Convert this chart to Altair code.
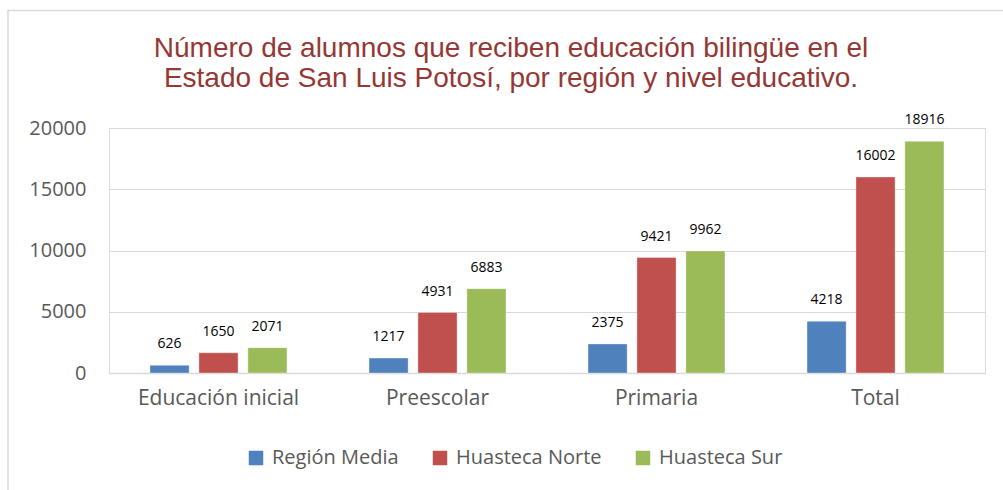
import altair as alt
import pandas as pd

title_lines = ["Número de alumnos que reciben educación bilingüe en el",
               "Estado de San Luis Potosí, por región y nivel educativo."]
categories = ["Educación inicial", "Preescolar", "Primaria", "Total"]
series = ["Región Media", "Huasteca Norte", "Huasteca Sur"]
region_media = [626, 1217, 2375, 4218]
huasteca_norte = [1650, 4931, 9421, 16002]
huasteca_sur = [2071, 6883, 9962, 18916]
colors = ["#4F81BD", "#C0504D", "#9BBB59"]

rows = []
for vals, s in zip([region_media, huasteca_norte, huasteca_sur], series):
    for c, v in zip(categories, vals):
        rows.append({"nivel": c, "region": s, "alumnos": v})
df = pd.DataFrame(rows)

W, H = 876, 245
font = "Open Sans"

base = alt.Chart(df).encode(
    x=alt.X("nivel:N", sort=categories,
            scale=alt.Scale(paddingInner=0.33, paddingOuter=0.165),
            axis=alt.Axis(title=None, labelAngle=0, labelFontSize=21, labelColor="#595959",
                          labelFont=font, labelPadding=14, ticks=False,
                          domainColor="#D9D9D9", domainWidth=1.5)),
    xOffset=alt.XOffset("region:N", sort=series,
                        scale=alt.Scale(paddingInner=0.2, paddingOuter=0.1)),
    y=alt.Y("alumnos:Q", scale=alt.Scale(domain=[0, 20000]),
            axis=alt.Axis(title=None, values=[0, 5000, 10000, 15000, 20000],
                          labelFontSize=20, labelColor="#595959", labelFont=font,
                          labelPadding=23, ticks=False, domain=False,
                          gridColor="#D9D9D9", gridWidth=1.2, format="d")),
)

bars = base.mark_bar(stroke="white", strokeWidth=0.6, strokeOpacity=0.6).encode(
    color=alt.Color("region:N", sort=series,
                    scale=alt.Scale(domain=series, range=colors),
                    legend=alt.Legend(title=None, orient="none", direction="horizontal",
                                      legendX=137, legendY=320,
                                      symbolType="square", symbolSize=210,
                                      symbolStrokeWidth=0,
                                      labelFontSize=20, labelColor="#595959",
                                      labelFont=font, columnPadding=31,
                                      labelOffset=6))
)

labels = base.mark_text(baseline="middle", dy=-21, fontSize=14, font=font,
                        color="#000000").encode(text=alt.Text("alumnos:Q", format="d"))

one = pd.DataFrame({"k": [0]})
border = alt.Chart(one).mark_rect(fill=None, stroke="#D9D9D9", strokeWidth=1.5,
                                  clip=False).encode(
    x=alt.value(-101), x2=alt.value(920), y=alt.value(-117.5), y2=alt.value(400)
)

title1 = alt.Chart(one).mark_text(font="Liberation Sans", fontSize=28, color="#953735",
                                  align="center", baseline="alphabetic").encode(
    x=alt.value(402), y=alt.value(-71), text=alt.value(title_lines[0]))
title2 = alt.Chart(one).mark_text(font="Liberation Sans", fontSize=28, color="#953735",
                                  align="center", baseline="alphabetic").encode(
    x=alt.value(402), y=alt.value(-41), text=alt.value(title_lines[1]))

chart = alt.layer(border, bars, labels, title1, title2).properties(
    width=W, height=H,
    autosize=alt.AutoSizeParams(type="none"),
    padding={"left": 109, "top": 128, "right": 18, "bottom": 117},
).configure_view(stroke=None).configure(background="white")

chart.save("out.html", embed_options={"renderer": "svg", "actions": False})
